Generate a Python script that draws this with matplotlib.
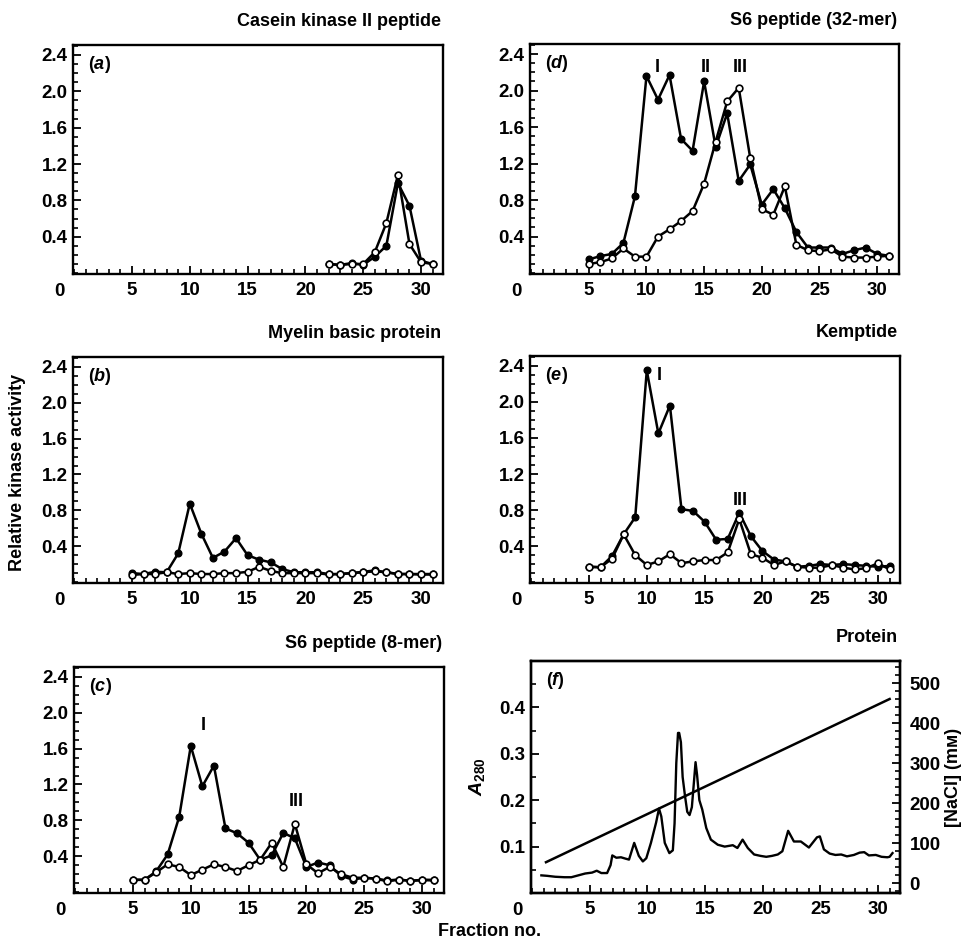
import matplotlib
matplotlib.use("Agg")
import matplotlib.pyplot as plt
from matplotlib.ticker import MultipleLocator, FixedLocator
import numpy as np

plt.rcParams['font.family'] = ['Liberation Sans', 'DejaVu Sans']
plt.rcParams['font.weight'] = 'bold'
plt.rcParams['mathtext.fontset'] = 'custom'
plt.rcParams['mathtext.it'] = 'Liberation Sans:italic:bold'
plt.rcParams['mathtext.rm'] = 'Liberation Sans:bold'
plt.rcParams['mathtext.bf'] = 'Liberation Sans:bold'

FS = 13
TFS = 13.5

# ---------------- data ----------------
frac_a = list(range(22, 32))
a_filled = [0.10, 0.09, 0.11, 0.09, 0.18, 0.30, 0.99, 0.74, 0.135, 0.10]
a_open = [0.10, 0.09, 0.10, 0.10, 0.23, 0.55, 1.08, 0.32, 0.12, 0.10]

frac = list(range(5, 32))
b_filled = [0.10, 0.09, 0.115, 0.11, 0.32, 0.875, 0.54, 0.27, 0.34, 0.49, 0.30, 0.25, 0.22, 0.145,
            0.11, 0.11, 0.11, 0.09, 0.09, 0.10, 0.115, 0.13, 0.11, 0.09, 0.09, 0.09, 0.09]
b_open = [0.08, 0.09, 0.09, 0.11, 0.09, 0.10, 0.09, 0.09, 0.10, 0.10, 0.115, 0.17, 0.125, 0.10,
          0.10, 0.10, 0.10, 0.085, 0.09, 0.10, 0.11, 0.12, 0.11, 0.09, 0.09, 0.085, 0.085]

c_filled = [0.137, 0.137, 0.23, 0.42, 0.84, 1.63, 1.18, 1.41, 0.71, 0.656, 0.55, 0.36, 0.41, 0.66,
            0.60, 0.28, 0.33, 0.30, 0.18, 0.14, 0.16, 0.15, 0.13, 0.14, 0.125, 0.137, 0.137]
c_open = [0.137, 0.137, 0.22, 0.31, 0.28, 0.19, 0.25, 0.31, 0.28, 0.235, 0.30, 0.36, 0.55, 0.28,
          0.76, 0.31, 0.21, 0.28, 0.20, 0.16, 0.16, 0.15, 0.12, 0.14, 0.125, 0.135, 0.13]

d_filled = [0.15, 0.186, 0.21, 0.33, 0.84, 2.16, 1.90, 2.17, 1.47, 1.34, 2.10, 1.38, 1.75, 1.01,
            1.19, 0.75, 0.92, 0.71, 0.45, 0.28, 0.28, 0.28, 0.21, 0.25, 0.28, 0.21, 0.19]
d_open = [0.10, 0.12, 0.16, 0.27, 0.18, 0.18, 0.40, 0.48, 0.57, 0.68, 0.98, 1.44, 1.88, 2.03,
          1.26, 0.70, 0.64, 0.95, 0.31, 0.25, 0.24, 0.26, 0.18, 0.17, 0.17, 0.18, 0.19]

e_filled = [0.17, 0.165, 0.29, 0.53, 0.72, 2.35, 1.65, 1.96, 0.81, 0.79, 0.67, 0.47, 0.48, 0.77,
            0.51, 0.345, 0.25, 0.23, 0.17, 0.18, 0.20, 0.19, 0.20, 0.19, 0.18, 0.17, 0.18]
e_open = [0.17, 0.165, 0.26, 0.53, 0.30, 0.19, 0.23, 0.31, 0.21, 0.23, 0.245, 0.245, 0.33, 0.70,
          0.31, 0.27, 0.19, 0.23, 0.17, 0.16, 0.16, 0.19, 0.16, 0.14, 0.155, 0.21, 0.14]

# protein trace (f)
f_x = [0.8, 1.3, 2.0, 2.8, 3.4, 4.0, 4.6, 5.2, 5.6, 6.0, 6.5, 6.8, 6.95, 7.3, 7.7, 8.1, 8.4, 8.85,
       9.25, 9.6, 9.9, 10.3, 10.75, 11.0, 11.2, 11.5, 11.9, 12.2, 12.35, 12.5, 12.65, 12.75, 12.9,
       13.05, 13.25, 13.45, 13.65, 13.85, 14.0, 14.17, 14.3, 14.5, 14.75, 15.1, 15.5, 16.1, 16.7,
       17.4, 17.8, 18.25, 18.7, 19.25, 19.8, 20.3, 20.8, 21.3, 21.7, 22.2, 22.7, 23.3, 24.0, 24.7,
       24.95, 25.3, 25.8, 26.3, 26.8, 27.3, 27.9, 28.4, 28.8, 29.2, 29.8, 30.3, 30.8, 31.0, 31.25]
f_a280 = [0.038, 0.037, 0.035, 0.034, 0.034, 0.038, 0.042, 0.044, 0.048, 0.043, 0.043, 0.06, 0.081,
          0.076, 0.077, 0.074, 0.072, 0.108, 0.08, 0.068, 0.075, 0.108, 0.152, 0.182, 0.165, 0.108,
          0.086, 0.092, 0.15, 0.28, 0.345, 0.345, 0.325, 0.25, 0.21, 0.175, 0.168, 0.185, 0.23,
          0.282, 0.255, 0.2, 0.18, 0.14, 0.115, 0.104, 0.1, 0.103, 0.097, 0.115, 0.097, 0.083, 0.08,
          0.078, 0.08, 0.083, 0.09, 0.134, 0.111, 0.111, 0.098, 0.12, 0.122, 0.094, 0.085, 0.082,
          0.083, 0.079, 0.082, 0.087, 0.088, 0.081, 0.082, 0.078, 0.077, 0.078, 0.086]
nacl_x = [1.2, 31.0]
nacl_mM = [52, 460]

titles = ['Casein kinase II peptide', 'Myelin basic protein', 'S6 peptide (8-mer)',
          'S6 peptide (32-mer)', 'Kemptide', 'Protein']
letters = ['a', 'b', 'c', 'd', 'e', 'f']
xtick_vals = [5, 10, 15, 20, 25, 30]
ytick_vals = [0.4, 0.8, 1.2, 1.6, 2.0, 2.4]

W, H = 963, 941
fig = plt.figure(figsize=(W / 100, H / 100), dpi=100)

def mk(left, top, right, bottom):
    return fig.add_axes([left / W, 1 - bottom / H, (right - left) / W, (bottom - top) / H])

axes = {
    'a': mk(73, 45, 443, 274),
    'b': mk(73, 357, 443, 583),
    'c': mk(74, 667, 444, 893),
    'd': mk(530, 44, 899, 274),
    'e': mk(530, 356, 900, 583),
    'f': mk(531, 661, 900, 893),
}

def style(ax, letter, title):
    for s in ax.spines.values():
        s.set_linewidth(1.7)
    ax.set_xlim(-0.1, 31.9)
    ax.xaxis.set_major_locator(FixedLocator(xtick_vals))
    ax.xaxis.set_minor_locator(MultipleLocator(1))
    ax.set_xticklabels([str(v) for v in xtick_vals])
    ax.tick_params(axis='x', which='major', direction='in', length=6, width=1.3, pad=6,
                   labelsize=TFS)
    ax.tick_params(axis='x', which='minor', direction='in', length=3.5, width=1.2)
    ax.tick_params(axis='y', which='major', direction='in', length=6, width=1.3, pad=4,
                   labelsize=TFS)
    ax.tick_params(axis='y', which='minor', direction='in', length=3.5, width=1.2)
    for lab in ax.get_xticklabels() + ax.get_yticklabels():
        lab.set_fontweight('bold')
    ax.annotate('0', xy=(-0.1, 0), xycoords=('data', 'axes fraction'), xytext=(-9.5, -12.5),
                textcoords='offset points', ha='center', va='center', fontsize=TFS,
                fontweight='bold')
    ax.text(0.04, 0.915, '(' + r'$\mathit{' + letter + '}$' + ')', transform=ax.transAxes,
            ha='left', va='center', fontsize=FS, fontweight='bold')
    ax.annotate(title, xy=(1, 1), xycoords='axes fraction', xytext=(-1.5, 17),
                textcoords='offset points', ha='right', va='center', fontsize=FS,
                fontweight='bold')

def kin(ax, x, yf, yo):
    ax.plot(x, yf, '-', color='black', lw=1.8, marker='o', ms=4.8, mfc='black', mec='black',
            zorder=3)
    ax.plot(x, yo, '-', color='black', lw=1.8, marker='o', ms=4.8, mfc='white', mec='black',
            mew=1.2, zorder=4)
    ax.set_ylim(-0.01, 2.51)
    ax.yaxis.set_major_locator(FixedLocator(ytick_vals))
    ax.yaxis.set_minor_locator(MultipleLocator(0.1))
    ax.set_yticklabels(['%.1f' % v for v in ytick_vals])

kin(axes['a'], frac_a, a_filled, a_open)
kin(axes['b'], frac, b_filled, b_open)
kin(axes['c'], frac, c_filled, c_open)
kin(axes['d'], frac, d_filled, d_open)
kin(axes['e'], frac, e_filled, e_open)

for k, t in zip(letters[:5], titles[:5]):
    style(axes[k], k, t)

def roman(ax, s, x, y):
    ax.text(x, y, s, ha='center', va='center', fontsize=FS, fontweight='bold')

roman(axes['c'], 'I', 11.1, 1.86)
roman(axes['c'], 'III', 19.1, 1.01)
roman(axes['d'], 'I', 10.9, 2.25)
roman(axes['d'], 'II', 15.1, 2.25)
roman(axes['d'], 'III', 18.1, 2.25)
roman(axes['e'], 'I', 11.1, 2.29)
roman(axes['e'], 'III', 18.1, 0.91)

# panel f
axf = axes['f']
axf.plot(f_x, f_a280, '-', color='black', lw=1.7)
axf.set_ylim(0, 0.5)
axf.yaxis.set_major_locator(FixedLocator([0.1, 0.2, 0.3, 0.4]))
axf.yaxis.set_minor_locator(MultipleLocator(0.05))
axf.set_yticklabels(['0.1', '0.2', '0.3', '0.4'])
style(axf, 'f', titles[5])
axf.set_ylabel(r'$\mathit{A}_{\mathrm{280}}$', fontsize=FS + 1, labelpad=9)

axr = axf.twinx()
axr.plot(nacl_x, nacl_mM, '-', color='black', lw=1.8)
axr.set_ylim(-25, 555)
axr.yaxis.set_major_locator(FixedLocator([0, 100, 200, 300, 400, 500]))
axr.yaxis.set_minor_locator(MultipleLocator(20))
axr.set_yticklabels(['0', '100', '200', '300', '400', '500'])
axr.tick_params(axis='y', which='major', direction='in', length=6, width=1.3, pad=7,
                labelsize=TFS)
axr.tick_params(axis='y', which='minor', direction='in', length=3.5, width=1.2)
for lab in axr.get_yticklabels():
    lab.set_fontweight('bold')
for s in axr.spines.values():
    s.set_linewidth(1.7)
axr.set_ylabel('[NaCl] (mᴍ)', fontsize=FS, fontweight='bold', labelpad=3)

fig.text(18 / W, 1 - 472 / H, 'Relative kinase activity', rotation=90, ha='center',
         va='center', fontsize=FS, fontweight='bold')
fig.text(490 / W, 1 - 932 / H, 'Fraction no.', ha='center', va='center', fontsize=FS,
         fontweight='bold')

fig.savefig('out.png', dpi=100)
